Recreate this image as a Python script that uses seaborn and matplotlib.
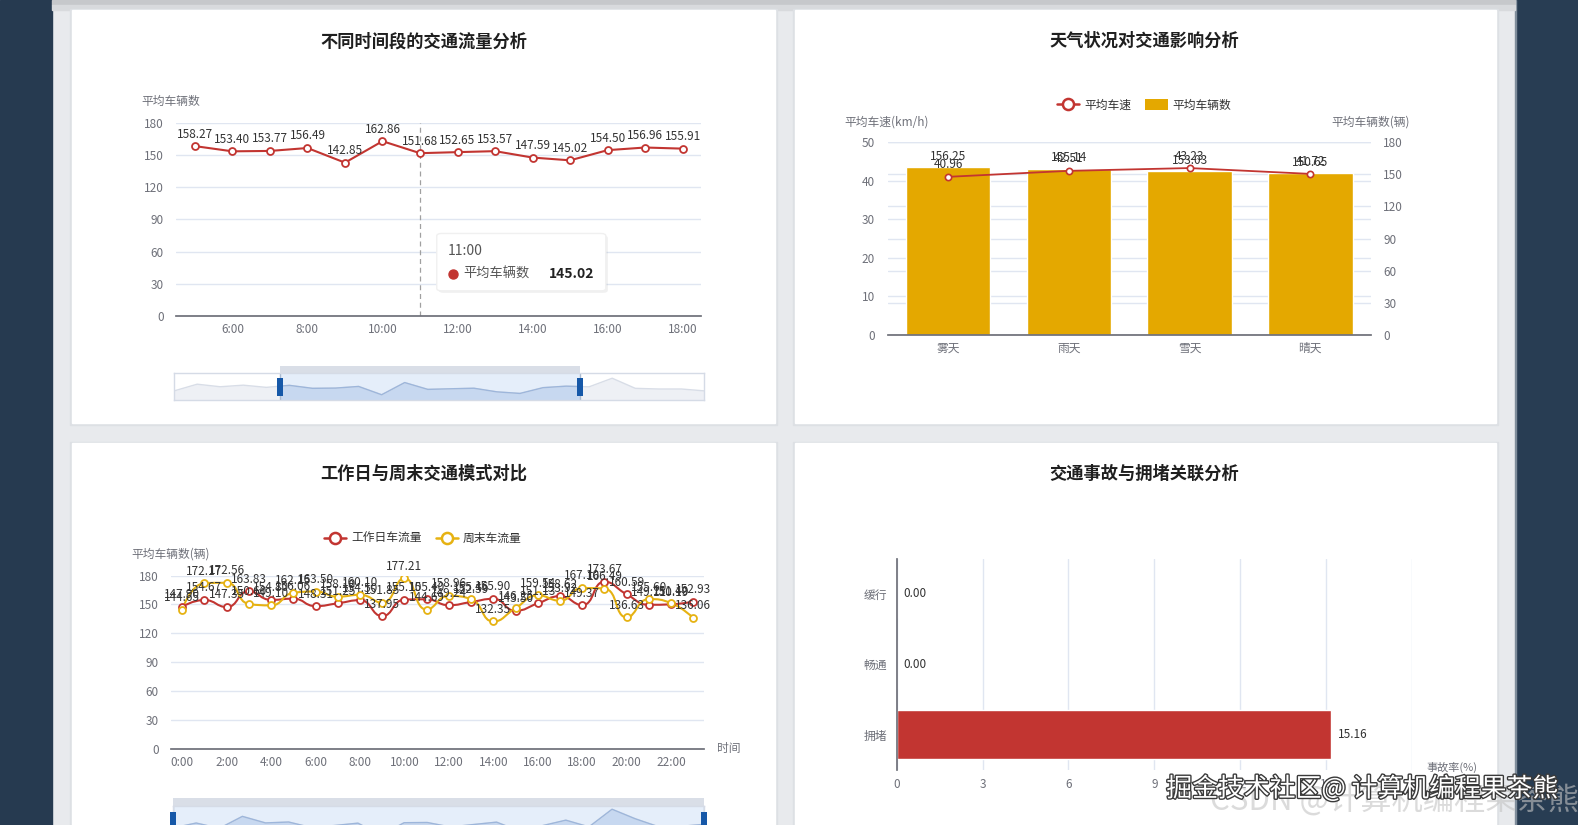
import numpy as np
import matplotlib
matplotlib.use('Agg')
import matplotlib.pyplot as plt
import matplotlib.patheffects as pe
import seaborn as sns
import pandas as pd
from matplotlib.patches import Rectangle, FancyBboxPatch, PathPatch, Patch
from matplotlib.path import Path
from matplotlib.lines import Line2D
from matplotlib.transforms import blended_transform_factory

sns.set_theme(style="white")
plt.rcParams['font.family'] = ['Noto Sans CJK SC', 'DejaVu Sans']
plt.rcParams['axes.unicode_minus'] = False

# ---------------- data ----------------
hours = [f'{h}:00' for h in range(24)]

# chart 1: average vehicles per hour (whole day; slider shows 5:00-18:00)
hourly_flow = [149.2, 160.2, 156.0, 158.6, 155.0,
               158.27, 153.40, 153.77, 156.49, 142.85, 162.86, 151.68,
               152.65, 153.57, 147.59, 145.02, 154.50, 156.96, 155.91,
               170.0, 153.4, 152.3, 152.3, 149.2]
first_hour, last_hour = 5, 18
slider_window = (20, 76.5)      # dataZoom start / end (%)
pointer_hour = '11:00'
tooltip_value = 145.02

# chart 2: weather
weather = ['雾天', '雨天', '雪天', '晴天']
weather_speed = [40.96, 42.51, 43.23, 41.72]
weather_count = [156.25, 155.14, 153.03, 150.65]

# chart 3: weekday vs weekend
weekday_flow = [147.9, 154.67, 147.35, 163.83, 154.8, 156.06, 148.31, 151.25,
                154.5, 137.95, 155.1, 155.4, 149.24, 152.59, 155.90, 143.5,
                151.13, 158.62, 149.37, 173.67, 160.59, 149.71, 150.19, 152.93]
weekend_flow = [144.65, 172.17, 172.56, 150.6, 149.10, 162.15, 163.5, 158.1,
                160.10, 151.85, 177.21, 144.69, 158.96, 155.46, 132.35, 146.25,
                159.54, 153.92, 167.1, 166.49, 136.63, 155.6, 151.4, 136.06]

# chart 4: accident rate by congestion state
congestion = ['缓行', '畅通', '拥堵']
accident_rate = [0.00, 0.00, 15.16]

# ---------------- colours ----------------
RED = '#c23531'
YELLOW = '#e4a800'
YELLOW2 = '#e6b212'
AXIS = '#6e7079'
GRID = '#e0e6f1'
LABEL = '#333333'
HANDLE = '#1658a8'

W, H = 1578, 825
S = W / 1568   # layout measured on the 1568 px preview

fig = plt.figure(figsize=(W / 100, H / 100), dpi=100)
fig.patch.set_facecolor('#e8eaed')


def fx(x):
    return x * S / W


def fy(y):
    return 1 - y * S / H


def rect(x0, y0, x1, y1):
    return [fx(x0), fy(y1), fx(x1) - fx(x0), fy(y0) - fy(y1)]


def fig_box(x0, y0, x1, y1, z=-5, **kw):
    fig.patches.append(Rectangle((fx(x0), fy(y1)), fx(x1) - fx(x0), fy(y0) - fy(y1),
                                 transform=fig.transFigure, zorder=z, **kw))


def ftext(x, y, s, **kw):
    kw.setdefault('ha', 'center')
    kw.setdefault('va', 'center')
    kw.setdefault('fontsize', 8.5)
    kw.setdefault('color', AXIS)
    return fig.text(fx(x), fy(y), s, **kw)


def base_axes(r):
    ax = fig.add_axes(r)
    ax.patch.set_visible(False)
    return ax


def echarts_style(ax, grid_axis='y'):
    for s in ax.spines.values():
        s.set_visible(False)
    ax.tick_params(which='both', labelsize=8.5, labelcolor=AXIS, color=AXIS, length=0, width=1)
    ax.set_xlabel('')
    ax.set_ylabel('')
    ax.grid(False)
    getattr(ax, grid_axis + 'axis').grid(True, color=GRID, lw=1)
    ax.set_axisbelow(True)


def smooth_line(ax, xs, ys, color, smooth=0.5, lw=1.5):
    """ECharts-style smoothed polyline: cubic bezier through every data point."""
    (xa, xb), (ya, yb) = ax.get_xlim(), ax.get_ylim()
    box = ax.get_position()
    sx = box.width * W / (xb - xa)
    sy = box.height * H / (yb - ya)
    pts = [(x * sx, y * sy) for x, y in zip(xs, ys)]
    verts, codes = [pts[0]], [Path.MOVETO]
    cp0 = pts[0]
    for i in range(1, len(pts)):
        x, y = pts[i]
        px, py = pts[i - 1]
        if i == len(pts) - 1:
            cp1, nxt = (x, y), (x, y)
        else:
            nx, ny = pts[i + 1]
            vx, vy = nx - px, ny - py
            lp = np.hypot(x - px, y - py)
            ln = np.hypot(nx - x, ny - y)
            r = ln / (ln + lp)
            ncx = np.clip(x + vx * smooth * r, min(nx, x), max(nx, x))
            ncy = np.clip(y + vy * smooth * r, min(ny, y), max(ny, y))
            c1x = np.clip(x - (ncx - x) * lp / ln, min(px, x), max(px, x))
            c1y = np.clip(y - (ncy - y) * lp / ln, min(py, y), max(py, y))
            cp1 = (c1x, c1y)
            nxt = (x + (x - c1x) * ln / lp, y + (y - c1y) * ln / lp)
        verts += [cp0, cp1, (x, y)]
        codes += [Path.CURVE4] * 3
        cp0 = nxt
    verts = np.array(verts) / [sx, sy]
    ax.add_patch(PathPatch(Path(verts, codes), fill=False, edgecolor=color, lw=lw,
                           zorder=2, capstyle='round', joinstyle='round'))


def point_labels(ax, xs, ys, dy=4):
    for x, y in zip(xs, ys):
        ax.annotate(f'{y:.2f}', (x, y), xytext=(0, dy), textcoords='offset points',
                    ha='center', va='bottom', fontsize=8.5, color=LABEL, zorder=6)


def slider(ax, values, w0, w1):
    n = len(values)
    xs = np.arange(n)
    lo, hi = 135, 178
    ax.set_xlim(0, n - 1)
    ax.set_ylim(lo, hi)
    ax.fill_between(xs, values, lo, color='#eef0f5', lw=0)
    ax.plot(xs, values, color='#d8dde7', lw=1)
    ax.axvspan(w0, w1, color='#e5eefa', lw=0)
    fill = ax.fill_between(xs, values, lo, color='#c7d8f0', lw=0)
    line, = ax.plot(xs, values, color='#9db6db', lw=1)
    clip = Rectangle((w0, lo), w1 - w0, hi - lo, transform=ax.transData)
    fill.set_clip_path(clip)
    line.set_clip_path(clip)
    ax.set_xticks([])
    ax.set_yticks([])
    for s in ax.spines.values():
        s.set_color('#d5dbe6')
        s.set_linewidth(1)
    trans = blended_transform_factory(ax.transData, ax.transAxes)
    hw = 3 / (ax.get_position().width * W / (n - 1))
    ax.add_patch(Rectangle((w0, 1.0), w1 - w0, 0.27, transform=trans, color='#d9dee7',
                           lw=0, clip_on=False))
    for w in (w0, w1):
        ax.axvline(w, color='#a9b9cf', lw=1)
        ax.add_patch(Rectangle((w - hw, 0.14), 2 * hw, 0.68, transform=trans,
                               color=HANDLE, lw=0, clip_on=False, zorder=5))


# ---------------- page background and cards ----------------
fig_box(0, 0, 52, 840, color='#263a50')
fig_box(1506, 0, 1570, 840, color='#283d53')
fig_box(1505, 0, 1506.2, 840, color='#7f8d9b')
fig_box(52, 0, 1505, 5, color='#c6c8cb')
fig_box(52, 5, 1505, 10, color='#d8dadd')
cards = [(72, 10, 770, 420), (790, 10, 1487, 420), (72, 440, 770, 840), (790, 440, 1487, 840)]
for x0, y0, x1, y1 in cards:
    fig_box(x0 - 2, y0 - 1, x1 + 2, y1 + 2, z=-4, color='#dde0e4')
    fig_box(x0, y0, x1, y1, z=-3, color='white')

ftext(421, 41, '不同时间段的交通流量分析', fontsize=12.4, fontweight='bold', color='#1f1f1f')
ftext(1137, 41, '天气状况对交通影响分析', fontsize=12.4, fontweight='bold', color='#1f1f1f')
ftext(421, 471, '工作日与周末交通模式对比', fontsize=12.4, fontweight='bold', color='#1f1f1f')
ftext(1137, 471, '交通事故与拥堵关联分析', fontsize=12.4, fontweight='bold', color='#1f1f1f')

# ---------------- chart 1 ----------------
ax1 = base_axes(rect(175, 122, 697, 314))
win_hours = hours[first_hour:last_hour + 1]
df1 = pd.DataFrame({'pos': np.arange(len(win_hours)), 'hour': win_hours,
                    'flow': hourly_flow[first_hour:last_hour + 1]})
ax1.axvline(win_hours.index(pointer_hour), color='#a0a0a0', lw=0.9, ls=(0, (4, 3)), zorder=1)
sns.lineplot(data=df1, x='pos', y='flow', ax=ax1, color=RED, linewidth=1.5, marker='o',
             markersize=5, markerfacecolor='white', markeredgecolor=RED,
             markeredgewidth=1.3, zorder=3)
ax1.set_xlim(-0.5, len(df1) - 0.5)
ax1.set_ylim(0, 180)
echarts_style(ax1)
ax1.spines['bottom'].set_visible(True)
ax1.spines['bottom'].set_color(AXIS)
ax1.set_yticks(np.arange(0, 181, 30))
lab1 = df1['pos'].values[1::2]
ax1.set_xticks(lab1)
ax1.set_xticklabels(df1['hour'].values[1::2])
ax1.set_xticks(lab1 - 0.5, minor=True)
ax1.tick_params(axis='x', which='minor', length=5)
ax1.tick_params(axis='x', which='major', pad=5)
ax1.tick_params(axis='y', pad=9)
point_labels(ax1, df1['pos'], df1['flow'])
ftext(170, 101, '平均车辆数')

# tooltip snapshot
tip = dict(transform=fig.transFigure, zorder=7)
fig.patches.append(FancyBboxPatch((fx(436), fy(291)), fx(604) - fx(436), fy(234) - fy(291),
                                  boxstyle='round,pad=0,rounding_size=0.003',
                                  color='black', alpha=0.06, lw=0, **tip))
fig.patches.append(FancyBboxPatch((fx(434), fy(289)), fx(602) - fx(434), fy(232) - fy(289),
                                  boxstyle='round,pad=0,rounding_size=0.003',
                                  facecolor='white', edgecolor='#f0f0f0', lw=1, **tip))
ftext(445, 249, pointer_hour, ha='left', fontsize=10, color='#555555', zorder=8)
fig.add_artist(Line2D([fx(450)], [fy(272)], marker='o', markersize=6.5, color=RED,
                      transform=fig.transFigure, zorder=8))
ftext(460, 272, '平均车辆数', ha='left', fontsize=9.5, color='#555555', zorder=8)
ftext(591, 272, f'{tooltip_value:.2f}', ha='right', fontsize=10, fontweight='bold',
      color='#222222', zorder=8)

axs1 = base_axes(rect(173, 371, 700, 397))
n_all = len(hourly_flow)
slider(axs1, hourly_flow, slider_window[0] / 100 * (n_all - 1), slider_window[1] / 100 * (n_all - 1))

# ---------------- chart 2 ----------------
df2 = pd.DataFrame({'pos': np.arange(len(weather)), 'weather': weather,
                    'speed': weather_speed, 'count': weather_count})
ax2 = base_axes(rect(882, 141, 1362, 333))
ax2b = ax2.twinx()
ax2c = ax2.twinx()
ax2b.patch.set_visible(False)
ax2c.patch.set_visible(False)
sns.barplot(data=df2, x='weather', y='count', order=weather, ax=ax2b, color=YELLOW,
            width=0.7, saturation=1, errorbar=None, zorder=2)
sns.lineplot(data=df2, x='pos', y='speed', ax=ax2c, color=RED, linewidth=1.3, marker='o',
             markersize=4.5, markerfacecolor='white', markeredgecolor=RED,
             markeredgewidth=1.2, sort=False)
ax2.set_ylim(0, 50)
ax2b.set_ylim(0, 180)
ax2c.set_ylim(0, 50)
ax2.set_xlim(-0.5, len(weather) - 0.5)
echarts_style(ax2)
echarts_style(ax2b)
for s in ax2c.spines.values():
    s.set_visible(False)
ax2c.spines['bottom'].set_visible(True)
ax2c.spines['bottom'].set_color(AXIS)
ax2c.set_yticks([])
ax2c.set_ylabel('')
ax2b.set_ylabel('')
ax2.set_yticks(np.arange(0, 51, 10))
ax2b.set_yticks(np.arange(0, 181, 30))
ax2.set_xticks(df2['pos'])
ax2.set_xticklabels(weather)
ax2.set_xticks(np.arange(len(weather) + 1) - 0.5, minor=True)
ax2.tick_params(axis='x', which='minor', length=5)
ax2.tick_params(axis='x', which='major', pad=5)
ax2.tick_params(axis='y', pad=9)
ax2b.tick_params(axis='y', pad=9)
point_labels(ax2b, df2['pos'], df2['count'], dy=3)
point_labels(ax2c, df2['pos'], df2['speed'], dy=4)
ftext(881, 121, '平均车速(km/h)')
ftext(1362, 121, '平均车辆数(辆)')
h_line = Line2D([], [], color=RED, lw=1.8, marker='o', markersize=8,
                markerfacecolor='white', markeredgecolor=RED, markeredgewidth=1.8)
h_bar = Patch(facecolor=YELLOW, edgecolor='none')
ax2c.legend([h_line, h_bar], ['平均车速', '平均车辆数'], loc='center',
            bbox_to_anchor=(0.531, 1.19), ncol=2, frameon=False, fontsize=8.5,
            handlelength=1.9, handleheight=1.0, columnspacing=1.2, handletextpad=0.4,
            labelcolor=LABEL)

# ---------------- chart 3 ----------------
ax3 = base_axes(rect(170, 572, 700, 744))
pos3 = np.arange(len(hours))
ax3.set_xlim(-0.5, len(hours) - 0.5)
ax3.set_ylim(0, 180)
df3 = pd.DataFrame({'pos': pos3, 'weekday': weekday_flow, 'weekend': weekend_flow})
for col, color in [('weekday', RED), ('weekend', YELLOW2)]:
    smooth_line(ax3, df3['pos'], df3[col], color)
for col, color in [('weekday', RED), ('weekend', YELLOW2)]:
    sns.lineplot(data=df3, x='pos', y=col, ax=ax3, linestyle='', marker='o', markersize=5,
                 markerfacecolor='white', markeredgecolor=color, markeredgewidth=1.3, zorder=4)
ax3.set_xlim(-0.5, len(hours) - 0.5)
ax3.set_ylim(0, 180)
echarts_style(ax3)
ax3.spines['bottom'].set_visible(True)
ax3.spines['bottom'].set_color(AXIS)
ax3.set_yticks(np.arange(0, 181, 30))
lab3 = pos3[::2]
ax3.set_xticks(lab3)
ax3.set_xticklabels([hours[p] for p in lab3])
ax3.set_xticks(np.append(lab3 - 0.5, len(hours) - 0.5), minor=True)
ax3.tick_params(axis='x', which='minor', length=5)
ax3.tick_params(axis='x', which='major', pad=5)
ax3.tick_params(axis='y', pad=9)
point_labels(ax3, df3['pos'], df3['weekday'])
point_labels(ax3, df3['pos'], df3['weekend'])
ftext(170, 551, '平均车辆数(辆)')
ftext(712, 744, '时间', ha='left')
h_wd = Line2D([], [], color=RED, lw=1.8, marker='o', markersize=8,
              markerfacecolor='white', markeredgecolor=RED, markeredgewidth=1.8)
h_we = Line2D([], [], color=YELLOW2, lw=1.8, marker='o', markersize=8,
              markerfacecolor='white', markeredgecolor=YELLOW2, markeredgewidth=1.8)
ax3.legend([h_wd, h_we], ['工作日车流量', '周末车流量'], loc='center',
           bbox_to_anchor=(0.472, 1.215), ncol=2, frameon=False, fontsize=8.5,
           handlelength=1.9, columnspacing=1.2, handletextpad=0.4, labelcolor=LABEL)

axs3 = base_axes(rect(172, 801, 700, 832))
slider(axs3, weekday_flow, 0, len(weekday_flow) - 1)

# ---------------- chart 4 ----------------
ax4 = base_axes(rect(891, 555, 1403, 765))
df4 = pd.DataFrame({'status': congestion, 'rate': accident_rate})
sns.barplot(data=df4, y='status', x='rate', order=congestion, ax=ax4, color=RED,
            width=0.69, saturation=1, errorbar=None, orient='h')
ax4.set_xlim(0, 18)
ax4.set_xticks(np.arange(0, 19, 3))
echarts_style(ax4, 'x')
ax4.spines['left'].set_visible(True)
ax4.spines['left'].set_color(AXIS)
ax4.set_ylim(len(congestion) - 0.5, -0.5)
ax4.set_yticks(np.arange(len(congestion) + 1) - 0.5, minor=True)
ax4.tick_params(axis='y', which='minor', length=5)
ax4.tick_params(axis='y', which='major', pad=7)
ax4.tick_params(axis='x', pad=6)
for i, v in enumerate(df4['rate']):
    ax4.annotate(f'{v:.2f}', (v, i), xytext=(5, 0), textcoords='offset points',
                 ha='left', va='center', fontsize=8.5, color=LABEL)
ftext(1443, 763, '事故率(%)', fontsize=8)

# ---------------- watermarks ----------------
ftext(1386, 796, 'CSDN @计算机编程果茶熊', fontsize=22.5, color='#c4c4c4', alpha=0.6, zorder=8)
ftext(1354, 784, '掘金技术社区@ 计算机编程果茶熊', fontsize=18.6, color='white', zorder=9,
      path_effects=[pe.withStroke(linewidth=2.0, foreground='#3a3a3a')])

fig.savefig('out.png', dpi=100, facecolor=fig.get_facecolor())
